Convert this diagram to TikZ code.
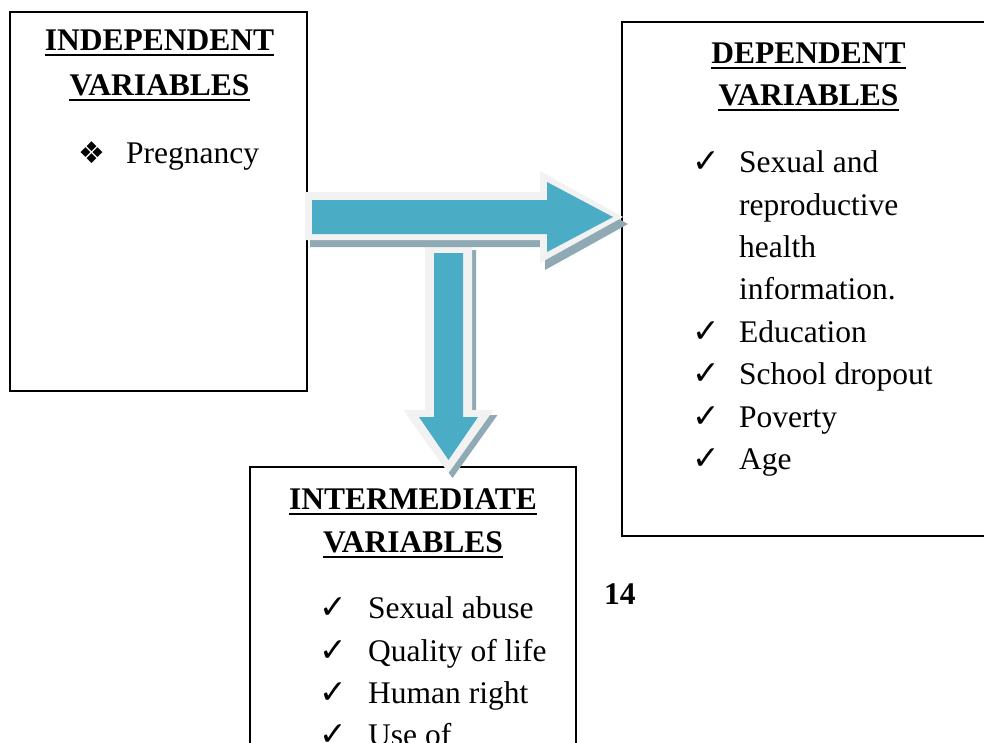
\documentclass[tikz,border=0pt]{standalone}
\usepackage{fontspec}
\setmainfont{Liberation Serif}
\newfontfamily\symfont{DejaVu Sans}
\definecolor{arrowblue}{HTML}{4BACC6}
\definecolor{arrowrim}{HTML}{F2F2F2}
\definecolor{arrowshadow}{HTML}{8FAAB5}
\tikzset{
  box/.style={draw=black, line width=2pt, fill=white, inner sep=0pt},
  headtxt/.style={font=\fontsize{31.5}{38}\selectfont\bfseries, inner sep=0pt, anchor=base},
  itemtxt/.style={font=\fontsize{31.5}{38}\selectfont, inner sep=0pt, anchor=base west},
  tick/.style={font=\symfont\fontsize{33}{36}\selectfont, inner sep=0pt, anchor=base west},
  uline/.style={line width=2.8pt},
  shadowfill/.style={fill=arrowshadow, draw=none},
  rimfill/.style={fill=arrowrim, draw=none},
  bluefill/.style={fill=arrowblue, draw=none}
}
\begin{document}
\begin{tikzpicture}[x=1pt,y=-1pt]
\clip (0,0) rectangle (984,742);
\fill[white] (0,0) rectangle (984,742);

% boxes
\node[box, minimum width=297pt, minimum height=379pt] (indbox) at (158.5,201.5) {};
\node[box, minimum width=378pt, minimum height=514pt] (depbox) at (811,279) {};
\node[box, minimum width=326pt, minimum height=333pt] (intbox) at (413,633.5) {};

% vertical arrow
\fill[shadowfill, shift={(4,5)}] (425,245) -- (472,245) -- (472,410) -- (493.5,410) -- (448.5,473) -- (403.5,410) -- (425,410) -- cycle;
\fill[rimfill] (425,245) -- (472,245) -- (472,410) -- (493.5,410) -- (448.5,473) -- (403.5,410) -- (425,410) -- cycle;
\fill[bluefill] (434,253) -- (463,253) -- (463,417) -- (478,417) -- (448.5,460) -- (419,417) -- (434,417) -- cycle;

% horizontal arrow
\fill[shadowfill, shift={(5,7)}] (305,192) -- (540,192) -- (540,171) -- (623,217) -- (540,263) -- (540,240) -- (305,240) -- cycle;
\fill[rimfill] (305,192) -- (540,192) -- (540,171) -- (623,217) -- (540,263) -- (540,240) -- (305,240) -- cycle;
\fill[bluefill] (312,200) -- (547,200) -- (547,182) -- (613,217) -- (547,252) -- (547,234) -- (312,234) -- cycle;

% independent
\node[headtxt] (indh1) at (159.5,50) {INDEPENDENT};
\node[headtxt] (indh2) at (159.5,95) {VARIABLES};
\draw[uline] ([yshift=-5pt]indh1.base west) -- ([yshift=-5pt]indh1.base east);
\draw[uline] ([yshift=-5pt]indh2.base west) -- ([yshift=-5pt]indh2.base east);
\node[font=\symfont\fontsize{30}{34}\selectfont, inner sep=0pt] (indb1) at (92,153) {❖};
\node[itemtxt] (indi1) at (126,163) {Pregnancy};

% dependent
\node[headtxt] (deph1) at (808.5,63) {DEPENDENT};
\node[headtxt] (deph2) at (808.5,105) {VARIABLES};
\draw[uline] ([yshift=-5pt]deph1.base west) -- ([yshift=-5pt]deph1.base east);
\draw[uline] ([yshift=-5pt]deph2.base west) -- ([yshift=-5pt]deph2.base east);
\node[tick] (dept1) at (692,172) {✓};
\node[itemtxt] (depi1) at (739,172) {Sexual and};
\node[itemtxt] (depi1b) at (739,215) {reproductive};
\node[itemtxt] (depi1c) at (739,257) {health};
\node[itemtxt] (depi1d) at (739,299) {information.};
\node[tick] (dept2) at (692,342) {✓};
\node[itemtxt] (depi2) at (739,342) {Education};
\node[tick] (dept3) at (692,384) {✓};
\node[itemtxt] (depi3) at (739,384) {School dropout};
\node[tick] (dept4) at (692,427) {✓};
\node[itemtxt] (depi4) at (739,427) {Poverty};
\node[tick] (dept5) at (692,469) {✓};
\node[itemtxt] (depi5) at (739,469) {Age};

% intermediate
\node[headtxt] (inth1) at (413,509) {INTERMEDIATE};
\node[headtxt] (inth2) at (413,552) {VARIABLES};
\draw[uline] ([yshift=-5pt]inth1.base west) -- ([yshift=-5pt]inth1.base east);
\draw[uline] ([yshift=-5pt]inth2.base west) -- ([yshift=-5pt]inth2.base east);
\node[tick] (intt1) at (319,618) {✓};
\node[itemtxt] (inti1) at (368,618) {Sexual abuse};
\node[tick] (intt2) at (319,661) {✓};
\node[itemtxt] (inti2) at (368,661) {Quality of life};
\node[tick] (intt3) at (319,703) {✓};
\node[itemtxt] (inti3) at (368,703) {Human right};
\node[tick] (intt4) at (319,745) {✓};
\node[itemtxt] (inti4) at (368,745) {Use of};

% page number
\node[font=\fontsize{31.5}{38}\selectfont\bfseries, inner sep=0pt, anchor=base west] (pgnum) at (604,604) {14};
\end{tikzpicture}
\end{document}
